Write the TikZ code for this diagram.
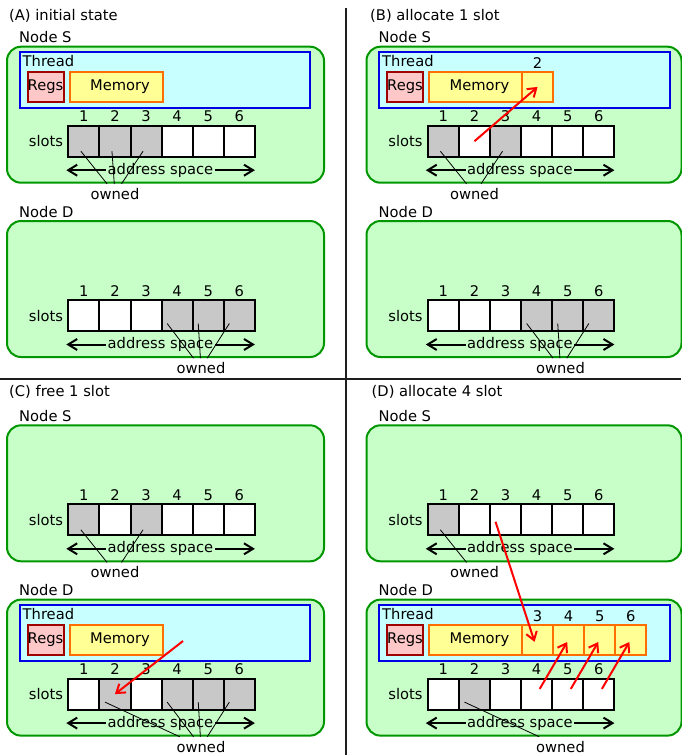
\documentclass[tikz,border=0pt]{standalone}
\usepackage{fontspec}
\setmainfont{DejaVu Sans}
\usetikzlibrary{arrows.meta,calc}

\definecolor{nodefill}{RGB}{200,255,200}
\definecolor{nodeline}{RGB}{0,150,0}
\definecolor{thrfill}{RGB}{200,255,255}
\definecolor{thrline}{RGB}{0,0,230}
\definecolor{regfill}{RGB}{255,200,200}
\definecolor{regline}{RGB}{160,0,0}
\definecolor{memfill}{RGB}{255,255,150}
\definecolor{memline}{RGB}{255,110,0}
\definecolor{slotgrey}{RGB}{200,200,200}
\definecolor{divcol}{RGB}{30,30,30}

\tikzset{
  every node/.style={font=\fontsize{14.7}{17}\selectfont, inner sep=0pt},
  machine/.style={draw=nodeline, fill=nodefill, line width=2pt, rounded corners=14pt},
  threadbox/.style={draw=thrline, fill=thrfill, line width=2pt},
  regsbox/.style={draw=regline, fill=regfill, line width=2pt, minimum width=36pt, minimum height=30.5pt},
  membox/.style={draw=memline, fill=memfill, line width=2pt, minimum width=93pt, minimum height=30.5pt},
  memslot/.style={draw=memline, fill=memfill, line width=2pt, minimum width=31.1pt, minimum height=30.5pt},
  slotbox/.style={draw=black, line width=2pt, minimum width=31.1pt, minimum height=31pt},
  addrtext/.style={inner sep=1.5pt},
  ownedlbl/.style={inner sep=4pt},
  ownedline/.style={line width=0.8pt},
  addrarrow/.style={line width=2pt, -{Straight Barb[length=9pt,width=11pt]}},
  redarrow/.style={red, line width=2pt, -{Straight Barb[length=8pt,width=11pt]}},
  divider/.style={divcol, line width=1.6pt},
}

% green machine box with its name above
\newcommand{\machinebox}[5]{%
  \node[machine, anchor=north west, minimum width=#4pt, minimum height=136pt] (#1box) at (#2,#3) {};
  \node[anchor=base west] (#1name) at ({#2+13},{#3-3}) {#5};
}
% thread box with regs and memory
\newcommand{\threadrow}[3]{%
  \node[threadbox, anchor=north west, minimum width=290.5pt, minimum height=55.5pt] (#1thr) at ({#2+12.5},{#3+5.5}) {};
  \node[anchor=base west] (#1thl) at ({#2+16.5},{#3+20.5}) {Thread};
  \node[regsbox, anchor=north west] (#1regs) at ({#2+20.5},{#3+25}) {Regs};
  \node[membox, anchor=north west] (#1mem) at ({#2+62.5},{#3+25}) {\hspace{8pt}Memory};
}
% extra memory slot: prefix, gx, gy, index k (position), label
\newcommand{\memextra}[5]{%
  \node[memslot, anchor=north west] (#1m#5) at ({#2+155.5+31.1*(#4-1)},{#3+25}) {};
  \node[anchor=base] (#1ml#5) at ($(#1m#5.north)+(0,-2)$) {#5};
}
% slot row
\newcommand{\slotrow}[4]{%
  \node[anchor=base east] (#1lbl) at ({#2+57.3},{#3+101}) {slots};
  \foreach \i/\c in {#4} {
    \node[slotbox, fill=\c] (#1s\i) at ({#2+62.3+31.1*\i-15.55},{#3+95.5}) {};
    \node[anchor=base] (#1n\i) at ({#2+62.3+31.1*\i-15.55},{#3+76}) {\i};
  }
  \node[addrtext] (#1as) at ({#2+154.5},{#3+124.5}) {address space};
  \coordinate (#1al) at ({#2+60.3},{#3+124.5});
  \coordinate (#1ar) at ({#2+248.9},{#3+124.5});
  \draw[addrarrow] (#1as.west) -- (#1al);
  \draw[addrarrow] (#1as.east) -- (#1ar);
}

\begin{document}
\begin{tikzpicture}[x=1pt,y=-1pt]
\useasboundingbox (0,0) rectangle (681,755);

% dividers
\coordinate (vtop) at (346,8);
\coordinate (vbot) at (346,755);
\coordinate (hl) at (0,379);
\coordinate (hr) at (681,379);
\draw[divider] (vtop) -- (vbot);
\draw[divider] (hl) -- (hr);

% titles
\node[anchor=base west] (tA) at (9,20.7) {(A) initial state};
\node[anchor=base west] (tB) at (370,20.7) {(B) allocate 1 slot};
\node[anchor=base west] (tC) at (9,396.7) {(C) free 1 slot};
\node[anchor=base west] (tD) at (371.5,396.7) {(D) allocate 4 slot};

% ---------------- (A) ----------------
\machinebox{AS}{6}{45.7}{317}{Node S}
\threadrow{AS}{6}{45.7}
\slotrow{AS}{6}{45.7}{1/slotgrey,2/slotgrey,3/slotgrey,4/white,5/white,6/white}
\node[ownedlbl] (ASown) at (115,193.7) {owned};
\foreach \k in {1,2,3} \draw[ownedline] ([shift={(-3,10)}]ASs\k.center) -- (ASown);

\machinebox{AD}{6}{220}{317}{Node D}
\slotrow{AD}{6}{220}{1/white,2/white,3/white,4/slotgrey,5/slotgrey,6/slotgrey}
\node[ownedlbl] (ADown) at (201,368) {owned};
\foreach \k in {4,5,6} \draw[ownedline] ([shift={(-10,8)}]ADs\k.center) -- (ADown);

% ---------------- (B) ----------------
\machinebox{BS}{365.5}{45.7}{315}{Node S}
\threadrow{BS}{365.5}{45.7}
\memextra{BS}{365.5}{45.7}{1}{2}
\slotrow{BS}{365.5}{45.7}{1/slotgrey,2/white,3/slotgrey,4/white,5/white,6/white}
\node[ownedlbl] (BSown) at (474.5,193.7) {owned};
\foreach \k in {1,3} \draw[ownedline] ([shift={(-3,10)}]BSs\k.center) -- (BSown);

\machinebox{BD}{365.5}{220}{315}{Node D}
\slotrow{BD}{365.5}{220}{1/white,2/white,3/white,4/slotgrey,5/slotgrey,6/slotgrey}
\node[ownedlbl] (BDown) at (560.5,368) {owned};
\foreach \k in {4,5,6} \draw[ownedline] ([shift={(-10,8)}]BDs\k.center) -- (BDown);

\draw[redarrow] (BSs2.center) -- (BSm2.center);

% ---------------- (C) ----------------
\machinebox{CS}{6}{424.3}{317}{Node S}
\slotrow{CS}{6}{424.3}{1/slotgrey,2/white,3/slotgrey,4/white,5/white,6/white}
\node[ownedlbl] (CSown) at (115,572.3) {owned};
\foreach \k in {1,3} \draw[ownedline] ([shift={(-3,10)}]CSs\k.center) -- (CSown);

\machinebox{CD}{6}{598.6}{317}{Node D}
\threadrow{CD}{6}{598.6}
\slotrow{CD}{6}{598.6}{1/white,2/slotgrey,3/white,4/slotgrey,5/slotgrey,6/slotgrey}
\node[ownedlbl] (CDown) at (201,746.6) {owned};
\foreach \k in {2,4,5,6} \draw[ownedline] ([shift={(-10,8)}]CDs\k.center) -- (CDown);

\coordinate (CDfree) at (183,641);
\draw[redarrow] (CDfree) -- (CDs2.center);

% ---------------- (D) ----------------
\machinebox{DS}{365.5}{424.3}{315}{Node S}
\slotrow{DS}{365.5}{424.3}{1/slotgrey,2/white,3/white,4/white,5/white,6/white}
\node[ownedlbl] (DSown) at (474.5,572.3) {owned};
\draw[ownedline] ([shift={(-3,10)}]DSs1.center) -- (DSown);

\machinebox{DD}{365.5}{598.6}{315}{Node D}
\threadrow{DD}{365.5}{598.6}
\memextra{DD}{365.5}{598.6}{1}{3}
\memextra{DD}{365.5}{598.6}{2}{4}
\memextra{DD}{365.5}{598.6}{3}{5}
\memextra{DD}{365.5}{598.6}{4}{6}
\slotrow{DD}{365.5}{598.6}{1/white,2/slotgrey,3/white,4/white,5/white,6/white}
\node[ownedlbl] (DDown) at (560.5,746.6) {owned};
\draw[ownedline] ([shift={(-10,8)}]DDs2.center) -- (DDown);

\draw[redarrow] ([shift={(-10,2)}]DSs3.center) -- ([shift={(-3,2)}]DDm3.center);
\foreach \k in {4,5,6}
  \draw[redarrow, shorten <=6pt, shorten >=-1pt] (DDs\k.center) -- ([shift={(-2,3)}]DDm\k.center);

\end{tikzpicture}
\end{document}
